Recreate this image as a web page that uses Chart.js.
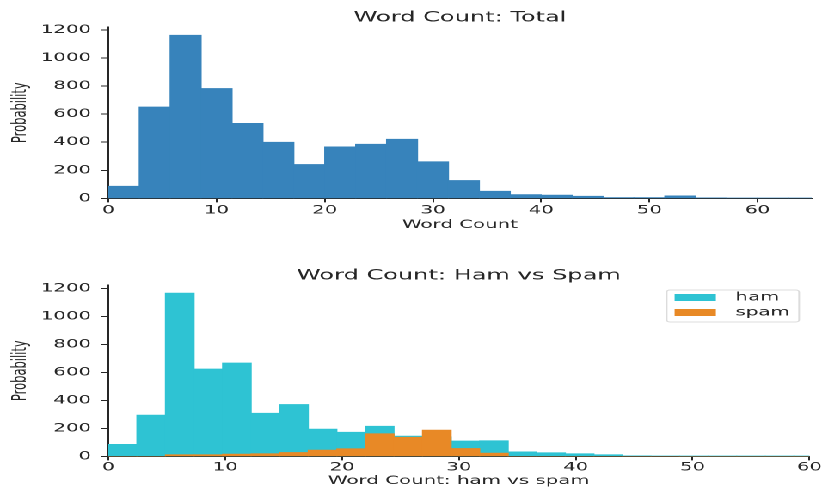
<!DOCTYPE html>
<html>
<head>
<meta charset="utf-8">
<script src="https://cdn.jsdelivr.net/npm/chart.js@4.4.1/dist/chart.umd.min.js"></script>
<style>
html, body { margin: 0; padding: 0; background: #fff; overflow: hidden; }
/* the reference figure is stretched sideways, so draw narrow and stretch */
#stage { position: absolute; left: 0; top: 0; width: 478px; height: 490px; transform: scaleX(1.7197); transform-origin: 0 0; }
.panel { position: relative; width: 478px; height: 245px; }
</style>
</head>
<body>
<div id="stage">
  <div class="panel"><canvas id="totalChart"></canvas></div>
  <div class="panel"><canvas id="hamSpamChart"></canvas></div>
</div>
<script>
// top histogram: bin centres and counts
const totalBins = [1.43, 4.29, 7.14, 10.0, 12.86, 15.71, 18.57, 21.43, 24.29, 27.14, 30.0, 32.86,
    35.71, 38.57, 41.43, 44.29, 47.14, 50.0, 52.86, 55.71, 58.57, 61.43, 64.29];
const totalCounts = [87, 651, 1162, 783, 534, 400, 242, 367, 386, 421, 261, 128,
    51, 27, 24, 16, 6, 6, 18, 4, 3, 3, 3];

// bottom histogram: bin centres, ham and spam counts
const hamSpamBins = [1.22, 3.67, 6.11, 8.56, 11.0, 13.44, 15.89, 18.33, 20.78, 23.22, 25.67, 28.11,
    30.56, 33.0, 35.44, 37.89, 40.33, 42.78, 45.22, 47.67, 50.11, 52.56, 55.0, 57.44, 59.89];
const hamCounts = [86, 295, 1167, 625, 668, 309, 371, 195, 173, 216, 145, 140,
    110, 112, 33, 26, 19, 12, 4, 3, 2, 2, 1, 1, 1];
const spamCounts = [0, 0, 12, 12, 17, 19, 28, 45, 55, 162, 137, 188,
    57, 24, 0, 0, 0, 0, 0, 0, 0, 0, 0, 0, 0];

// tick labels
const xTickValues = [0, 10, 20, 30, 40, 50, 60];
const yTickValues = [0, 200, 400, 600, 800, 1000, 1200];

const ink = '#262626';
Chart.defaults.font.family = "'DejaVu Sans', sans-serif";
Chart.defaults.font.size = 11.5;
Chart.defaults.color = ink;

function points(xs, ys) {
    return xs.map((x, i) => ({x: x, y: ys[i]}));
}

function fixedTicks(values) {
    return (scale) => { scale.ticks = values.map((v) => ({value: v})); };
}

function xScale(max, title, tickPad) {
    return {
        type: 'linear',
        min: 0,
        max: max,
        offset: false,
        border: {display: true, color: ink, width: 1},
        grid: {drawOnChartArea: false, drawTicks: true, tickLength: 4, color: ink, offset: false},
        ticks: {maxRotation: 0, autoSkip: false, padding: tickPad, callback: (v) => String(v)},
        afterBuildTicks: fixedTicks(xTickValues),
        title: {display: true, text: title, padding: {top: 0, bottom: 0}},
    };
}

function yScale(max) {
    return {
        min: 0,
        max: max,
        stacked: false,
        border: {display: true, color: ink, width: 1},
        grid: {drawOnChartArea: false, drawTicks: true, tickLength: 4, color: ink},
        ticks: {padding: 6, callback: (v) => String(v)},
        afterBuildTicks: fixedTicks(yTickValues),
        title: {display: true, text: 'Probability', padding: {top: 0, bottom: 0}},
        afterFit: (scale) => { scale.width = 58; },
    };
}

new Chart(document.getElementById('totalChart'), {
    type: 'bar',
    data: {
        datasets: [{
            label: 'Word Count',
            data: points(totalBins, totalCounts),
            backgroundColor: '#3783bb',
            borderWidth: 0,
            barThickness: 'flex',
            categoryPercentage: 1,
            barPercentage: 1,
        }]
    },
    options: {
        responsive: true,
        maintainAspectRatio: false,
        devicePixelRatio: 2,
        animation: false,
        layout: {padding: {left: 5, right: 6, top: 0, bottom: 13}},
        plugins: {
            legend: {display: false},
            tooltip: {enabled: false},
            title: {display: true, text: 'Word Count: Total', fullSize: false, color: ink,
                font: {size: 14, weight: 'normal'}, padding: {top: 9.6, bottom: 0.6}},
        },
        scales: {
            x: xScale(65, 'Word Count', 1),
            y: yScale(1220),
        }
    }
});

// legend drawn in a frame at the top right of the plot, like the original
const boxLegend = {
    id: 'boxLegend',
    afterDraw(chart) {
        const ctx = chart.ctx;
        const area = chart.chartArea;
        const w = 77, h = 32;
        const left = area.right - w - 6;
        const top = area.top + 5;
        ctx.save();
        ctx.fillStyle = 'rgba(255,255,255,0.8)';
        ctx.strokeStyle = '#dcdcdc';
        ctx.lineWidth = 1;
        ctx.beginPath();
        ctx.roundRect(left, top, w, h, 2);
        ctx.fill();
        ctx.stroke();
        ctx.font = "11.5px 'DejaVu Sans', sans-serif";
        ctx.textBaseline = 'middle';
        chart.data.datasets.forEach((ds, i) => {
            const cy = top + 7.5 + i * 15;
            ctx.fillStyle = ds.backgroundColor;
            ctx.fillRect(left + 4.6, cy - 3.5, 24, 7);
            ctx.fillStyle = ink;
            ctx.fillText(ds.label, left + 40, cy);
        });
        ctx.restore();
    }
};

new Chart(document.getElementById('hamSpamChart'), {
    type: 'bar',
    data: {
        datasets: [{
            label: 'ham',
            data: points(hamSpamBins, hamCounts),
            backgroundColor: '#2ec3d3',
            borderWidth: 0,
            barThickness: 'flex',
            categoryPercentage: 1,
            barPercentage: 1,
            stack: 'overlay',
            order: 1,
        }, {
            label: 'spam',
            data: points(hamSpamBins, spamCounts),
            backgroundColor: '#e88926',
            borderWidth: 0,
            barThickness: 'flex',
            categoryPercentage: 1,
            barPercentage: 1,
            stack: 'overlay',
            order: 0,
        }]
    },
    options: {
        responsive: true,
        maintainAspectRatio: false,
        devicePixelRatio: 2,
        animation: false,
        layout: {padding: {left: 5, right: 7, top: 0, bottom: 2}},
        plugins: {
            legend: {display: false},
            tooltip: {enabled: false},
            title: {display: true, text: 'Word Count: Ham vs Spam', fullSize: false, color: ink,
                font: {size: 14, weight: 'normal'}, padding: {top: 22.6, bottom: 0.6}},
        },
        scales: {
            x: xScale(60, 'Word Count: ham vs spam', 0),
            y: yScale(1225),
        }
    },
    plugins: [boxLegend]
});
</script>
</body>
</html>
